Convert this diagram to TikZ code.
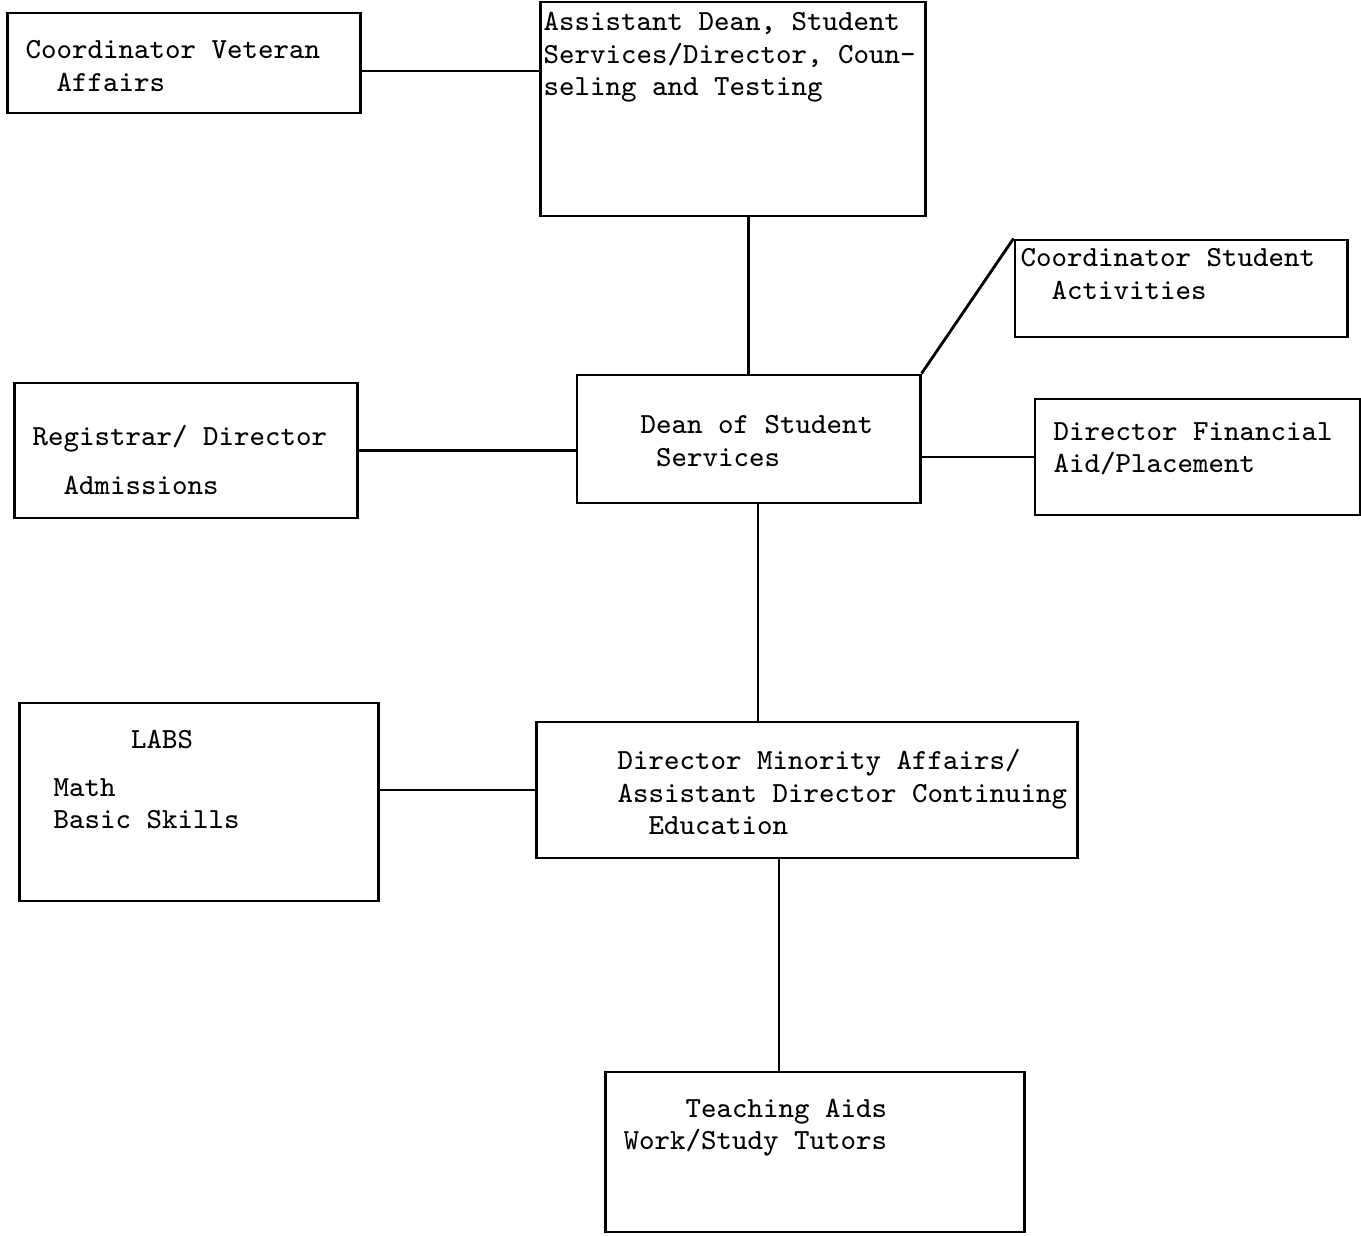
\documentclass[tikz,border=0pt]{standalone}
\usetikzlibrary{positioning}

\begin{document}
\begin{tikzpicture}[
x=0.01cm, y=-0.01cm,
box/.style={draw, line width=0.8pt, inner sep=0pt},
txt/.style={font=\ttfamily\fontsize{8.3}{9.2}\selectfont, anchor=north west, align=left, inner sep=0pt},
link/.style={line width=0.8pt}
]
    % frame of the page
    \useasboundingbox (0,0) rectangle (1361,1235);

    % boxes
    \node (vet) [box, minimum width=3.52cm, minimum height=1.00cm] at (184,63) {};
    \node (asst) [box, minimum width=3.84cm, minimum height=2.14cm] at (733,109) {};
    \node (act) [box, minimum width=3.32cm, minimum height=0.97cm] at (1181,288.5) {};
    \node (reg) [box, minimum width=3.42cm, minimum height=1.35cm] at (186,450.5) {};
    \node (dean) [box, minimum width=3.43cm, minimum height=1.28cm] at (748.5,439) {};
    \node (fin) [box, minimum width=3.25cm, minimum height=1.16cm] at (1197.5,457) {};
    \node (labs) [box, minimum width=3.58cm, minimum height=1.98cm] at (199,802) {};
    \node (minor) [box, minimum width=5.40cm, minimum height=1.36cm] at (807,790) {};
    \node (teach) [box, minimum width=4.18cm, minimum height=1.60cm] at (815,1152) {};

    % texts
    \node (vettxt) [txt] at (25,40) {Coordinator Veteran\\~~Affairs};
    \node (assttxt) [txt] at (543,12) {Assistant Dean, Student\\Services/Director, Coun-\\seling and Testing};
    \node (acttxt) [txt] at (1020,248) {Coordinator Student\\~~Activities};
    \node (regtxt) [txt] at (32,425) {Registrar/ Director\\[4.6pt]~~Admissions};
    \node (deantxt) [txt] at (640,415) {Dean of Student\\~Services};
    \node (fintxt) [txt] at (1053,422) {Director Financial\\Aid/Placement};
    \node (labstxt) [txt] at (53,729) {~~~~~LABS\\[4.6pt]Math\\Basic Skills};
    \node (minortxt) [txt] at (617,749) {Director Minority Affairs/\\Assistant Director Continuing\\~~Education};
    \node (teachtxt) [txt] at (623,1098) {~~~~Teaching Aids\\Work/Study Tutors};

    % joints
    \coordinate (vs) at (360,71);
    \coordinate (dm) at (758,503);
    \coordinate (mt) at (779,858);

    % lines
    \draw[link] (vs) -- (asst.west |- vs);
    \draw[link] (dean.north |- asst.south) -- (dean.north);
    \draw[link] (dean.north east) -- (act.north west);
    \draw[link] (reg.east) -- (dean.west |- reg.east);
    \draw[link] (dean.east |- fin.west) -- (fin.west);
    \draw[link] (dm) -- (dm |- minor.north);
    \draw[link] (labs.east |- minor.west) -- (minor.west);
    \draw[link] (mt) -- (mt |- teach.north);
\end{tikzpicture}
\end{document}
